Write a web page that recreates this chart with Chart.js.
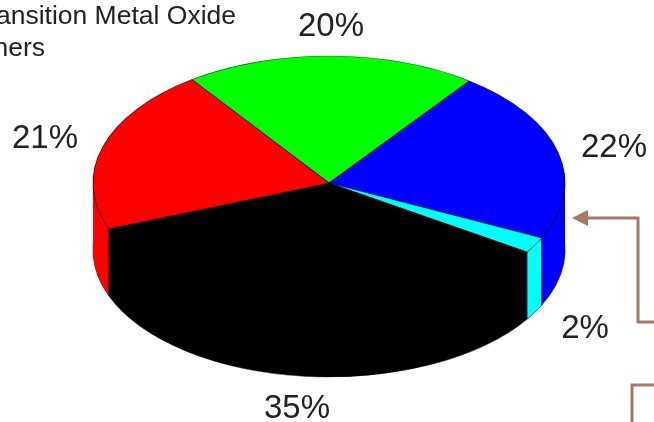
<!DOCTYPE html>
<html>
<head>
<meta charset="utf-8">
<style>
  html, body { margin: 0; padding: 0; background: #fff; }
  canvas { display: block; }
</style>
<script src="https://cdn.jsdelivr.net/npm/chart.js@4"></script>
</head>
<body>
<canvas id="mychart" width="654" height="422"></canvas>
<script>
var categories = ['Green', 'Blue', 'Cyan', 'Black', 'Red'];
var shares = [20, 22, 2, 35, 21];
var sliceColors = ['#00ff00', '#0000ff', '#00ffff', '#000000', '#ff0000'];
var firstSliceAngle = -35.5;

// where each percent label sits, same order as shares
var labelSpots = [[331, 36], [614, 157], [585, 338], [297, 418], [45, 148]];

var legendLines = [['Transition Metal Oxide', 236, 24], ['Others', 45, 56]];

// the flat pie gets squashed into an ellipse and stacked to look like a disc
var disc = { x: 329, y: 183, rx: 236, ry: 127, depth: 67 };
var edgeColor = 'rgba(0, 0, 0, 0.6)';
var arrowColor = '#a97866';

function squash(c, chart, dy) {
    var arc = chart.getDatasetMeta(0).data[0];
    var r = arc.outerRadius;
    c.translate(disc.x, disc.y + dy);
    c.scale(disc.rx / r, disc.ry / r);
    c.translate(-arc.x, -arc.y);
}

var discPlugin = {
    id: 'disc',
    beforeDatasetsDraw: function (chart) {
        var c = chart.ctx;
        var arcs = chart.getDatasetMeta(0).data;

        // side wall, from the bottom rim up
        for (var dy = disc.depth; dy > 0; dy -= 0.5) {
            c.save();
            squash(c, chart, dy);
            arcs.forEach(function (arc) {
                var opts = arc.options;
                if (dy < disc.depth) {
                    arc.options = Object.create(opts, { borderWidth: { value: 0 } });
                }
                arc.draw(c);
                arc.options = opts;
            });
            c.restore();
        }

        // vertical edges where a slice boundary faces the front
        arcs.forEach(function (arc) {
            var a = arc.startAngle;
            if (Math.sin(a) <= 0) return;
            var px = disc.x + Math.cos(a) * disc.rx;
            var py = disc.y + Math.sin(a) * disc.ry;
            c.save();
            c.strokeStyle = edgeColor;
            c.lineWidth = 1;
            c.beginPath();
            c.moveTo(px, py);
            c.lineTo(px, py + disc.depth);
            c.stroke();
            c.restore();
        });

        c.save();
        squash(c, chart, 0);
    },
    afterDatasetsDraw: function (chart) {
        var c = chart.ctx;
        c.restore();

        // percent labels
        c.save();
        c.fillStyle = '#222';
        c.font = '33px "Liberation Sans", Arial, sans-serif';
        c.textAlign = 'center';
        shares.forEach(function (v, i) {
            c.fillText(v + '%', labelSpots[i][0], labelSpots[i][1]);
        });

        // cut off legend text in the corner
        c.font = '26.5px "Liberation Sans", Arial, sans-serif';
        c.textAlign = 'right';
        legendLines.forEach(function (l) {
            c.fillText(l[0], l[1], l[2]);
        });

        // brown callout arrow and box corner on the right
        c.strokeStyle = arrowColor;
        c.fillStyle = arrowColor;
        c.lineWidth = 3;
        c.beginPath();
        c.moveTo(585, 218);
        c.lineTo(638, 218);
        c.lineTo(638, 322);
        c.lineTo(654, 322);
        c.moveTo(632, 422);
        c.lineTo(632, 385);
        c.lineTo(654, 385);
        c.stroke();
        c.beginPath();
        c.moveTo(572, 218);
        c.lineTo(588, 210);
        c.lineTo(588, 226);
        c.closePath();
        c.fill();
        c.restore();
    }
};

var ctx = document.getElementById('mychart').getContext('2d');
var myChart = new Chart(ctx, {
    type: 'pie',
    data: {
        labels: categories,
        datasets: [{
            data: shares,
            backgroundColor: sliceColors,
            borderColor: edgeColor,
            borderWidth: 1,
            clip: false
        }]
    },
    options: {
        responsive: false,
        animation: false,
        rotation: firstSliceAngle,
        plugins: {
            legend: { display: false },
            tooltip: { enabled: false }
        }
    },
    plugins: [discPlugin]
});
</script>
</body>
</html>
